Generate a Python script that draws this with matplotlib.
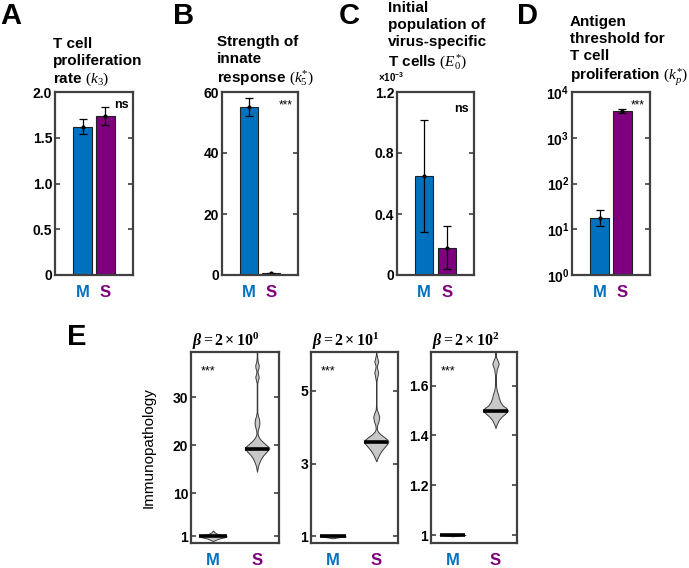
import numpy as np
import matplotlib
matplotlib.use("Agg")
import matplotlib.pyplot as plt

plt.rcParams['font.family'] = ['Liberation Sans', 'DejaVu Sans']
plt.rcParams['mathtext.fontset'] = 'custom'
plt.rcParams['mathtext.rm'] = 'Liberation Serif'
plt.rcParams['mathtext.it'] = 'Liberation Serif:italic'
plt.rcParams['mathtext.bf'] = 'Liberation Serif:bold'
plt.rcParams['mathtext.sf'] = 'Liberation Sans:bold'
HAS_BFIT = 'mathtext.bfit' in plt.rcParams
if HAS_BFIT:
    plt.rcParams['mathtext.bfit'] = 'Liberation Serif:bold:italic'

# ---------------- data ----------------
groups = ['M', 'S']
group_colors = ['#0072BD', '#7E007E']

a_mean = [1.62, 1.74]
a_err = [0.08, 0.10]
b_mean = [55.0, 0.5]
b_err = [3.0, 0.2]
c_mean = [0.65, 0.18]      # x 10^-3
c_err = [0.365, 0.14]
d_mean = [18.0, 3800.0]
d_low = [12.0, 3500.0]
d_high = [26.0, 4200.0]

a_sig, b_sig, c_sig, d_sig = 'ns', '***', 'ns', '***'

# violin profiles: y values and relative half-widths
e1_m_y = [0.0, 0.5, 0.8, 1.0, 1.2, 1.5, 1.8, 2.2]
e1_m_w = [0.0, 0.12, 0.26, 0.31, 0.25, 0.10, 0.04, 0.0]
e1_s_y = [14.5, 15.0, 15.5, 16.0, 16.5, 17.0, 17.5, 18.0, 18.5, 19.0, 19.3, 19.6, 20.0, 20.5,
          21.0, 21.5, 22.0, 22.5, 23.0, 23.5, 24.2, 24.8, 25.5, 26.2, 27.0, 33.0, 33.5, 34.3,
          35.0, 35.5, 36.2, 36.8, 37.5, 38.5, 40.0]
e1_s_w = [0.0, 0.01, 0.02, 0.035, 0.055, 0.08, 0.11, 0.15, 0.2, 0.25, 0.28, 0.27, 0.22, 0.16,
          0.10, 0.055, 0.025, 0.012, 0.015, 0.03, 0.05, 0.055, 0.045, 0.02, 0.006, 0.006, 0.02, 0.04,
          0.02, 0.012, 0.035, 0.04, 0.015, 0.006, 0.006]
e1_med = [1.0, 19.2]

e2_m_y = [0.95, 0.98, 1.0, 1.02, 1.05]
e2_m_w = [0.0, 0.15, 0.30, 0.15, 0.0]
e2_s_y = [3.06, 3.15, 3.25, 3.35, 3.45, 3.55, 3.6, 3.65, 3.72, 3.8, 3.87, 3.95, 4.05, 4.15,
          4.28, 4.4, 4.48, 4.6, 5.25, 5.35, 5.5, 5.62, 5.68, 5.8, 5.92, 6.0, 6.1]
e2_s_w = [0.0, 0.03, 0.07, 0.12, 0.19, 0.26, 0.28, 0.26, 0.19, 0.10, 0.04, 0.012, 0.02, 0.05,
          0.07, 0.04, 0.012, 0.006, 0.006, 0.02, 0.045, 0.02, 0.015, 0.045, 0.02, 0.006, 0.006]
e2_med = [1.0, 3.6]

e3_m_y = [0.995, 0.998, 1.0, 1.002, 1.005]
e3_m_w = [0.0, 0.15, 0.30, 0.15, 0.0]
e3_s_y = [1.43, 1.445, 1.46, 1.475, 1.49, 1.5, 1.51, 1.52, 1.535, 1.55, 1.565, 1.58, 1.6,
          1.62, 1.64, 1.665, 1.688, 1.705, 1.715, 1.74]
e3_s_w = [0.0, 0.03, 0.07, 0.14, 0.24, 0.29, 0.25, 0.17, 0.11, 0.08, 0.06, 0.03, 0.012,
          0.008, 0.01, 0.03, 0.075, 0.04, 0.01, 0.006]
e3_med = [1.0, 1.5]

e_exponents = [0, 1, 2]

# ---------------- layout ----------------
W, H = 689, 568
fig = plt.figure(figsize=(W / 100, H / 100), dpi=100)
SPINE = '#404040'


def add_ax(l, t, r, b):
    return fig.add_axes([l / W, 1 - b / H, (r - l) / W, (b - t) / H])


def style(ax):
    for s in ax.spines.values():
        s.set_color(SPINE)
        s.set_linewidth(1.6)
    ax.tick_params(axis='y', direction='in', left=True, right=True, length=3.5, width=1.2,
                   color=SPINE, labelsize=10, pad=2)
    ax.tick_params(axis='x', length=0, pad=7)
    for lab in ax.get_yticklabels():
        lab.set_fontweight('bold')


def xlabels(ax, pos):
    ax.set_xticks(pos)
    ax.set_xticklabels(groups, fontsize=12, fontweight='bold')
    for lab, c in zip(ax.get_xticklabels(), group_colors):
        lab.set_color(c)


def bars(ax, means, yerr):
    x = np.arange(1, 3)
    ax.bar(x, means, width=0.82, color=group_colors, edgecolor='#202020', linewidth=0.8)
    ax.errorbar(x, means, yerr=yerr, fmt='o', ms=2, color='black', ecolor='black',
                elinewidth=0.9, capsize=3, capthick=0.9)
    ax.set_xlim(-0.2, 3.2)
    xlabels(ax, x)


# A
axA = add_ax(55, 92, 133, 275)
bars(axA, a_mean, a_err)
axA.set_ylim(0, 2.0)
axA.set_yticks([0, 0.5, 1.0, 1.5, 2.0])
axA.set_yticklabels(['0', '0.5', '1.0', '1.5', '2.0'])
style(axA)
axA.text(0.95, 0.96, a_sig, transform=axA.transAxes, ha='right', va='top', fontsize=9, fontweight='bold')

# B
axB = add_ax(222, 92, 298, 275)
bars(axB, b_mean, b_err)
axB.set_ylim(0, 60)
axB.set_yticks([0, 20, 40, 60])
style(axB)
axB.text(0.93, 0.96, b_sig, transform=axB.transAxes, ha='right', va='top', fontsize=8.5)

# C
axC = add_ax(397, 92, 474, 275)
bars(axC, c_mean, c_err)
axC.set_ylim(0, 1.2)
axC.set_yticks([0, 0.4, 0.8, 1.2])
axC.set_yticklabels(['0', '0.4', '0.8', '1.2'])
style(axC)
axC.text(0.93, 0.94, c_sig, transform=axC.transAxes, ha='right', va='top', fontsize=9, fontweight='bold')
fig.text(378 / W, 1 - 84 / H, r'$\mathsf{\times10^{-3}}$', fontsize=7, ha='left', va='bottom')

# D
axD = add_ax(572, 92, 650, 275)
xd = np.arange(1, 3)
axD.bar(xd, d_mean, width=0.82, color=group_colors, edgecolor='#202020', linewidth=0.8)
axD.errorbar(xd, d_mean, yerr=[np.array(d_mean) - np.array(d_low), np.array(d_high) - np.array(d_mean)],
             fmt='o', ms=2, color='black', ecolor='black', elinewidth=0.9, capsize=3, capthick=0.9)
axD.set_yscale('log')
axD.set_xlim(-0.2, 3.2)
axD.set_ylim(1, 1e4)
axD.set_yticks([1, 10, 100, 1000, 10000])
axD.set_yticklabels([r'$\mathsf{10^{%d}}$' % k for k in range(5)])
axD.yaxis.set_minor_locator(matplotlib.ticker.NullLocator())
xlabels(axD, xd)
style(axD)
axD.text(0.93, 0.96, d_sig, transform=axD.transAxes, ha='right', va='top', fontsize=8.5)

# titles
tkw = dict(fontsize=11, fontweight='bold', ha='left', va='baseline', linespacing=1.25)
fig.text(53 / W, 1 - 83 / H, 'T cell\nproliferation\nrate $(k_3)$', **tkw)
fig.text(217 / W, 1 - 83 / H, 'Strength of\ninnate\nresponse $(k_5^{*})$', **tkw)
fig.text(388 / W, 1 - 66 / H, 'Initial\npopulation of\nvirus-specific\nT cells $(E_0^{*})$', **tkw)
fig.text(570 / W, 1 - 80 / H, 'Antigen\nthreshold for\nT cell\nproliferation $(k_p^{*})$', **tkw)

# panel letters
lkw = dict(fontsize=21, fontweight='bold', ha='left', va='top')
fig.text(0 / W, 1 - 2 / H, 'A', **lkw)
fig.text(173 / W, 1 - 2 / H, 'B', **lkw)
fig.text(339 / W, 1 - 2 / H, 'C', **lkw)
fig.text(517 / W, 1 - 2 / H, 'D', **lkw)
fig.text(67 / W, 1 - 323 / H, 'E', **lkw)

# E violins
e_specs = [
    ((191, 352, 279, 543), e1_m_y, e1_m_w, e1_s_y, e1_s_w, e1_med, (-0.4, 39.5), [1, 10, 20, 30]),
    ((311, 352, 398, 543), e2_m_y, e2_m_w, e2_s_y, e2_s_w, e2_med, (0.82, 6.06), [1, 3, 5]),
    ((431, 352, 517, 543), e3_m_y, e3_m_w, e3_s_y, e3_s_w, e3_med, (0.968, 1.735), [1, 1.2, 1.4, 1.6]),
]
for i, (box, my, mw, sy, sw, med, ylim, yt) in enumerate(e_specs):
    ax = add_ax(*box)
    for pos, yy, ww, md in ((1, my, mw, med[0]), (2, sy, sw, med[1])):
        yy = np.array(yy)
        ww = np.array(ww)
        ax.fill_betweenx(yy, pos - ww, pos + ww, facecolor='#C8C8C8', edgecolor='#3A3A3A', linewidth=0.7)
        hw = np.interp(md, yy, ww)
        ax.plot([pos - hw, pos + hw], [md, md], color='black', lw=2.6, solid_capstyle='butt')
    ax.set_xlim(0.5, 2.5)
    ax.set_ylim(*ylim)
    ax.set_yticks(yt)
    ax.set_yticklabels([('%g' % v) for v in yt])
    xlabels(ax, [1, 2])
    style(ax)
    ax.text(0.11, 0.93, '***', transform=ax.transAxes, ha='left', va='top', fontsize=9)
    beta = r'\mathbfit{\beta}' if HAS_BFIT else r'\mathit{\beta}'
    title = r'$%s = \mathbf{2\times10^{%d}}$' % (beta, e_exponents[i])
    ax.set_title(title, fontsize=11.5, pad=3, loc='left', x=0.01)
    if i == 0:
        ax.set_ylabel('Immunopathology', fontsize=11, labelpad=12)

fig.savefig('out.png', dpi=100)
